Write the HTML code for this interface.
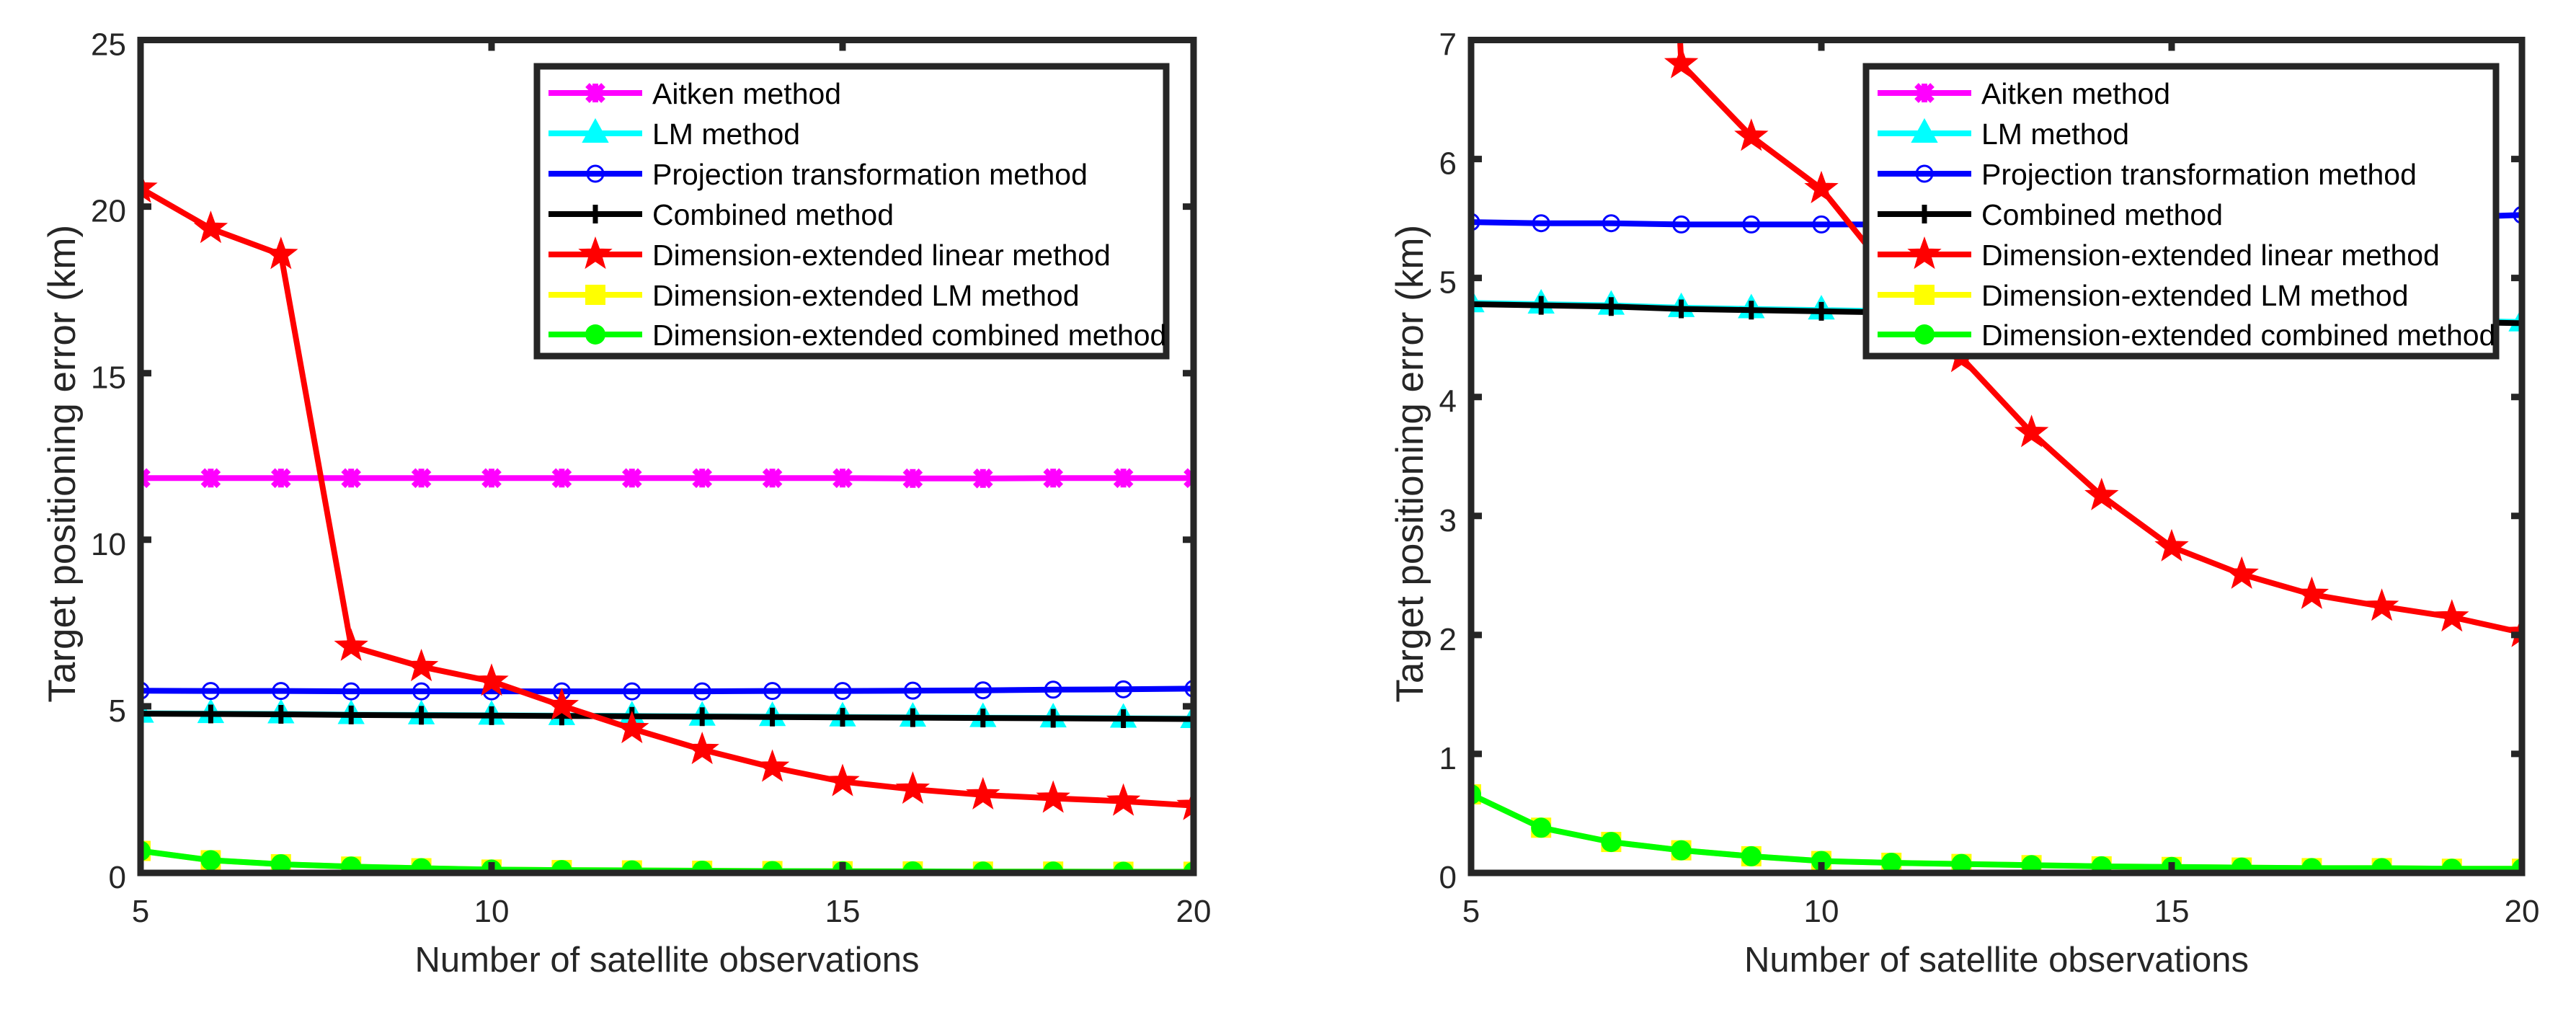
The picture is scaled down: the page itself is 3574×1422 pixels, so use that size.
<!DOCTYPE html>
<html><head><meta charset="utf-8"><style>
html,body{margin:0;padding:0;background:#fff;}
svg{display:block;font-family:"Liberation Sans",Arial,sans-serif;}
</style></head><body>
<svg id="fig" width="3574" height="1422" viewBox="0 0 3574 1422">
<defs>
<clipPath id="clipL"><rect x="195" y="55" width="1461" height="1156"/></clipPath>
<clipPath id="clipR"><rect x="2041" y="55" width="1458" height="1156"/></clipPath>
</defs>
</svg>
<script>
const xs = [5,6,7,8,9,10,11,12,13,14,15,16,17,18,19,20];
const aitken = [11.85,11.85,11.85,11.85,11.85,11.85,11.85,11.85,11.85,11.85,11.85,11.84,11.84,11.85,11.85,11.85];
const lm = [4.79,4.78,4.77,4.75,4.74,4.73,4.72,4.71,4.70,4.69,4.68,4.67,4.66,4.65,4.64,4.63];
const proj = [5.47,5.46,5.46,5.45,5.45,5.45,5.45,5.45,5.45,5.46,5.46,5.47,5.48,5.50,5.51,5.53];
const comb = [4.78,4.77,4.76,4.74,4.73,4.72,4.71,4.70,4.69,4.68,4.67,4.66,4.65,4.64,4.63,4.62];
const delin = [20.55,19.34,18.56,6.80,6.19,5.75,5.02,4.33,3.70,3.17,2.74,2.51,2.34,2.24,2.15,2.02];
const delm = [0.66,0.38,0.26,0.19,0.14,0.10,0.085,0.075,0.065,0.055,0.05,0.045,0.04,0.04,0.035,0.035];
const decomb = [0.66,0.38,0.26,0.19,0.14,0.10,0.085,0.075,0.065,0.055,0.05,0.045,0.04,0.04,0.035,0.035];
const xTicks = [5,10,15,20];
const yTicksL = [0,5,10,15,20,25];
const yTicksR = [0,1,2,3,4,5,6,7];
const legendLabels = ["Aitken method","LM method","Projection transformation method","Combined method","Dimension-extended linear method","Dimension-extended LM method","Dimension-extended combined method"];

const NS="http://www.w3.org/2000/svg";
const svg=document.getElementById('fig');
function mk(tag,attrs,parent){const e=document.createElementNS(NS,tag);for(const k in attrs)e.setAttribute(k,attrs[k]);(parent||svg).appendChild(e);return e;}

function marker(g,type,x,y){
  let e;
  if(type==='x'){
    e=mk('path',{d:`M${x-11},${y-11}L${x+11},${y+11}M${x-11},${y+11}L${x+11},${y-11}M${x},${y-13}L${x},${y+13}`,stroke:'#ff00ff','stroke-width':8,fill:'none'},g);
  }else if(type==='tri'){
    e=mk('path',{d:`M${x},${y-19}L${x+17},${y+12}L${x-17},${y+12}Z`,fill:'#00ffff',stroke:'#00ffff','stroke-width':2},g);
  }else if(type==='circ'){
    e=mk('circle',{cx:x,cy:y,r:11,fill:'none',stroke:'#0000ff','stroke-width':3},g);
  }else if(type==='plus'){
    e=mk('path',{d:`M${x-13},${y}L${x+13},${y}M${x},${y-13}L${x},${y+13}`,stroke:'#000','stroke-width':7,fill:'none'},g);
  }else if(type==='star'){
    let d='';const R=22,r=9;
    for(let i=0;i<10;i++){const a=-Math.PI/2+i*Math.PI/5;const rr=i%2?r:R;d+=(i?'L':'M')+(x+rr*Math.cos(a)).toFixed(1)+','+(y+rr*Math.sin(a)).toFixed(1);}
    e=mk('path',{d:d+'Z',fill:'#ff0000',stroke:'#ff0000','stroke-width':2},g);
  }else if(type==='sq'){
    e=mk('rect',{x:x-14,y:y-14,width:28,height:28,fill:'#ffff00'},g);
  }else if(type==='dot'){
    e=mk('circle',{cx:x,cy:y,r:14,fill:'#00ff00'},g);
  }
  
  
  return e;
}

const seriesDefs=[
  {data:aitken,color:'#ff00ff',m:'x',name:'aitken'},
  {data:lm,color:'#00ffff',m:'tri',name:'lm'},
  {data:proj,color:'#0000ff',m:'circ',name:'projection'},
  {data:comb,color:'#000000',m:'plus',name:'combined'},
  {data:delin,color:'#ff0000',m:'star',name:'dim-ext-linear'},
  {data:delm,color:'#ffff00',m:'sq',name:'dim-ext-lm'},
  {data:decomb,color:'#00ff00',m:'dot',name:'dim-ext-combined'}
];

function drawPanel(p){
  const {x0,x1,y0,y1,ymax,yTicks,clip,pname,ylabX,legX}=p;
  const sx=v=>x0+(v-5)/15*(x1-x0);
  const sy=v=>y0-(v/ymax)*(y0-y1);
  const pg=mk('g',{});
  
  
  const sg=mk('g',{'clip-path':`url(#${clip})`},pg);
  
  
  seriesDefs.forEach(s=>{
    const g=mk('g',{},sg);
    
    
    const pts=xs.map((x,i)=>sx(x).toFixed(1)+','+sy(s.data[i]).toFixed(1)).join(' ');
    const pl=mk('polyline',{points:pts,fill:'none',stroke:s.color,'stroke-width':8,'stroke-linejoin':'round'},g);
    
    
    xs.forEach((x,i)=>marker(g,s.m,sx(x),sy(s.data[i])));
  });
  const ax=mk('rect',{x:x0,y:y1,width:x1-x0,height:y0-y1,fill:'none',stroke:'#262626','stroke-width':9},pg);
  
  
  const tl=15;
  xTicks.forEach(t=>{
    const X=sx(t);
    const tk=mk('path',{d:`M${X},${y0}L${X},${y0-tl}M${X},${y1}L${X},${y1+tl}`,stroke:'#262626','stroke-width':9},pg);
    
    
    const tx=mk('text',{x:X,y:y0+68,'text-anchor':'middle','font-size':44,fill:'#262626'},pg);
    tx.textContent=t;
    
    
  });
  yTicks.forEach(t=>{
    const Y=sy(t);
    const tk=mk('path',{d:`M${x0},${Y}L${x0+tl},${Y}M${x1},${Y}L${x1-tl},${Y}`,stroke:'#262626','stroke-width':9},pg);
    
    
    const tx=mk('text',{x:x0-20,y:Y+21,'text-anchor':'end','font-size':44,fill:'#262626'},pg);
    tx.textContent=t;
    
    
  });
  const xl=mk('text',{x:(x0+x1)/2,y:1348,'text-anchor':'middle','font-size':49,fill:'#262626'},pg);
  xl.textContent='Number of satellite observations';
  
  
  const yl=mk('text',{x:0,y:0,'text-anchor':'middle','font-size':53,fill:'#262626',transform:`translate(${ylabX},${(y0+y1)/2+10}) rotate(-90)`},pg);
  yl.textContent='Target positioning error (km)';
  
  
  const lg=mk('g',{},pg);
  
  
  const lb=mk('rect',{x:legX,y:92,width:(p.legR-legX),height:402,fill:'#fff',stroke:'#262626','stroke-width':9},lg);
  
  
  const rowsY=[129,185,241,297,353,409,464];
  seriesDefs.forEach((s,i)=>{
    const eg=mk('g',{},lg);
    
    
    const ly=rowsY[i];
    const sl=mk('line',{x1:legX+16,y1:ly,x2:legX+146,y2:ly,stroke:s.color,'stroke-width':8},eg);
    
    
    marker(eg,s.m,legX+81,ly);
    const t=mk('text',{x:legX+160,y:ly+15,'font-size':41,fill:'#000'},eg);
    t.textContent=legendLabels[i];
    
    
  });
}

drawPanel({x0:195,x1:1656,y0:1211,y1:55.5,ymax:25,yTicks:yTicksL,clip:'clipL',pname:'left-chart',ylabX:104,legX:745,legR:1618});
drawPanel({x0:2041,x1:3499,y0:1211,y1:55.5,ymax:7,yTicks:yTicksR,clip:'clipR',pname:'right-chart',ylabX:1974,legX:2589,legR:3463});
</script>
</body></html>
